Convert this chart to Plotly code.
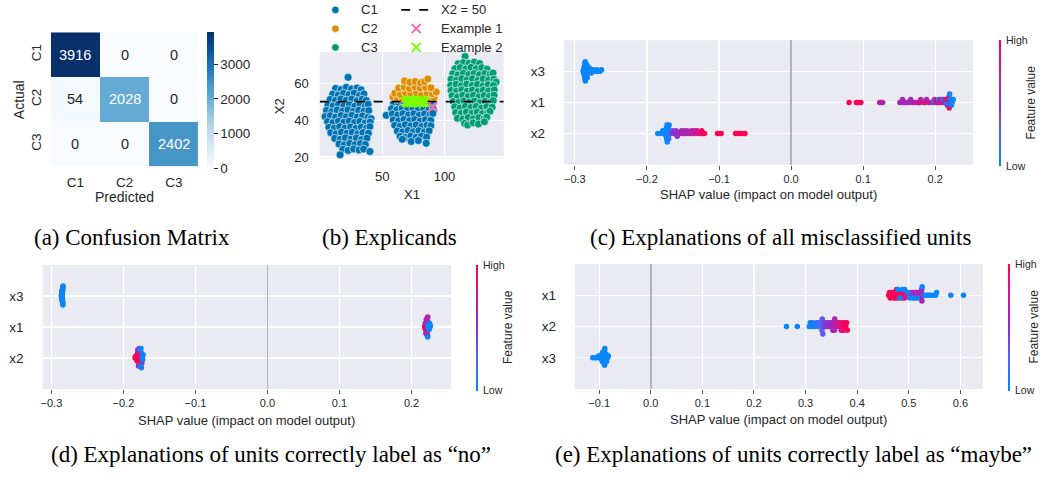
import math
import plotly.graph_objects as go
import plotly.colors as pc

W, H = 1042, 482

# ---------------- (a) confusion matrix ----------------
CM_LABELS = ["C1", "C2", "C3"]
CM_VALUES = [[3916, 0, 0],
             [54, 2028, 0],
             [0, 0, 2402]]
CM_CBAR_TICKS = [0, 1000, 2000, 3000]

# ---------------- (b) explicands (X1, X2) ----------------
C1_POINTS = [
    (22.5, 63.2),
    (12.5, 57.2), (16.8, 56.6), (21.0, 57.8), (25.3, 56.9), (29.6, 57.4), (33.0, 56.4),
    (10.2, 54.1), (14.6, 53.6), (18.9, 54.5), (23.2, 53.8), (27.4, 54.6), (31.8, 53.5), (35.2, 54.2),
    (8.1, 51.2), (12.4, 50.6), (16.7, 51.5), (21.1, 50.8), (25.5, 51.4), (29.8, 50.5), (33.9, 51.3), (37.2, 50.7),
    (6.3, 48.1), (10.5, 47.6), (14.8, 48.5), (19.2, 47.8), (23.5, 48.4), (27.9, 47.5), (32.1, 48.3), (36.4, 47.7), (38.6, 48.6),
    (5.2, 45.3), (9.4, 44.6), (13.7, 45.5), (18.0, 44.8), (22.4, 45.6), (26.8, 44.7), (31.0, 45.4), (35.3, 44.9), (39.1, 45.2),
    (4.0, 41.9), (8.2, 42.4), (12.5, 41.6), (16.9, 42.5), (21.2, 41.8), (25.6, 42.6), (29.9, 41.7), (34.2, 42.3), (38.4, 41.5), (41.0, 40.8),
    (6.0, 39.2), (10.3, 38.6), (14.7, 39.4), (19.0, 38.8), (23.4, 39.5), (27.7, 38.7), (32.0, 39.3), (36.3, 38.5), (40.2, 39.0),
    (7.1, 36.1), (11.4, 35.6), (15.8, 36.4), (20.1, 35.7), (24.5, 36.3), (28.8, 35.5), (33.1, 36.2), (37.4, 35.8), (40.0, 36.5),
    (8.6, 33.2), (12.9, 32.6), (17.2, 33.5), (21.6, 32.8), (25.9, 33.4), (30.2, 32.5), (34.5, 33.3), (38.8, 32.9),
    (11.8, 30.1), (16.1, 29.6), (20.4, 30.4), (24.8, 29.7), (29.1, 30.3), (33.4, 29.5), (37.6, 30.2),
    (15.2, 27.1), (19.5, 26.6), (23.9, 27.4), (28.2, 26.7), (32.5, 27.3), (36.4, 26.8),
    (18.3, 24.2), (22.6, 23.6), (27.0, 24.4), (31.3, 23.8), (35.0, 24.3), (40.1, 23.0), (16.1, 21.2),
    # middle blob, below the threshold
    (59.0, 49.0), (63.2, 49.4), (67.5, 48.8), (71.8, 49.5), (76.1, 48.9), (80.4, 49.3), (84.7, 48.7), (88.8, 49.2),
    (57.4, 46.2), (61.6, 45.6), (65.9, 46.5), (70.2, 45.8), (74.6, 46.4), (78.9, 45.5), (83.2, 46.3), (87.5, 45.7), (90.8, 46.1),
    (53.2, 42.6), (58.1, 43.3), (62.4, 42.7), (66.7, 43.5), (71.0, 42.8), (75.4, 43.4), (79.7, 42.6), (84.0, 43.3), (88.3, 42.9), (90.6, 43.6),
    (58.8, 40.1), (63.1, 39.6), (67.4, 40.4), (71.8, 39.7), (76.1, 40.3), (80.4, 39.5), (84.7, 40.2), (88.9, 39.8),
    (60.0, 37.2), (64.3, 36.6), (68.6, 37.5), (72.9, 36.8), (77.3, 37.4), (81.6, 36.5), (85.9, 37.3), (89.0, 36.9),
    (62.1, 34.1), (66.4, 33.6), (70.7, 34.4), (75.0, 33.7), (79.4, 34.3), (83.7, 33.5), (87.6, 34.2),
    (64.3, 31.2), (68.6, 30.6), (72.9, 31.4), (77.2, 30.7), (81.5, 31.3), (85.6, 30.8),
    (66.0, 29.6), (73.3, 28.4), (79.0, 28.9), (85.3, 27.5),
]
C2_POINTS = [
    (58.5, 52.5), (62.0, 51.3), (66.2, 51.9), (70.5, 51.2), (74.8, 52.0), (79.1, 51.4), (83.4, 52.1), (87.7, 51.5), (91.6, 52.2),
    (60.1, 54.6), (64.4, 54.0), (68.7, 54.9), (73.0, 54.2), (77.4, 54.8), (81.7, 54.1), (86.0, 54.7), (90.2, 54.3), (93.3, 55.2),
    (63.2, 57.4), (67.5, 57.9), (71.8, 57.2), (76.2, 58.0), (80.5, 57.3), (84.8, 57.8), (89.1, 57.5),
    (67.9, 61.2), (72.2, 60.5), (76.5, 61.0), (80.8, 60.3), (84.0, 60.9), (86.6, 62.3),
]
C3_POINTS = [
    (116.5, 74.5),
    (111.0, 70.6), (115.3, 71.2), (119.6, 70.8), (123.9, 71.4), (128.2, 70.7),
    (108.4, 67.9), (112.7, 68.5), (117.0, 67.7), (121.3, 68.6), (125.6, 67.8), (129.9, 68.4), (134.2, 67.6),
    (106.6, 65.1), (110.9, 64.5), (115.2, 65.4), (119.5, 64.7), (123.8, 65.3), (128.1, 64.6), (132.4, 65.2), (136.7, 64.8), (139.0, 65.5),
    (105.3, 62.2), (109.6, 61.6), (113.9, 62.5), (118.2, 61.8), (122.5, 62.4), (126.8, 61.5), (131.1, 62.3), (135.4, 61.7), (139.7, 62.1), (141.4, 60.6),
    (105.0, 58.9), (109.3, 59.4), (113.6, 58.6), (117.9, 59.5), (122.2, 58.8), (126.5, 59.3), (130.8, 58.5), (135.1, 59.2), (139.4, 58.7),
    (105.3, 56.1), (109.6, 55.6), (113.9, 56.4), (118.2, 55.7), (122.5, 56.3), (126.8, 55.5), (131.1, 56.2), (135.4, 55.8), (140.0, 56.3),
    (106.1, 53.2), (110.4, 52.6), (114.7, 53.5), (119.0, 52.8), (123.3, 53.4), (127.6, 52.5), (131.9, 53.3), (136.2, 52.9), (139.8, 53.5),
    (107.0, 50.1), (111.3, 49.6), (115.6, 50.4), (119.9, 49.7), (124.2, 50.3), (128.5, 49.5), (132.8, 50.2), (137.1, 49.8), (139.2, 50.6),
    (108.2, 47.2), (112.5, 46.6), (116.8, 47.5), (121.1, 46.8), (125.4, 47.4), (129.7, 46.5), (134.0, 47.3), (138.3, 47.0),
    (109.0, 44.1), (113.3, 43.6), (117.6, 44.4), (121.9, 43.7), (126.2, 44.3), (130.5, 43.5), (134.8, 44.2), (136.5, 44.8),
    (110.4, 41.0), (114.7, 40.6), (119.0, 41.4), (123.3, 40.7), (127.6, 41.3), (131.9, 40.8), (134.0, 41.6),
    (116.2, 38.2), (118.6, 37.3), (123.0, 38.5), (127.3, 37.9), (132.0, 39.1),
]
EXAMPLE1_POINTS = [(90.6, 47.1)]
EXAMPLE2_POINTS = [
    (69.0, 49.8), (69.8, 50.4), (70.6, 49.6), (71.4, 50.6), (72.2, 50.0), (73.0, 49.5), (73.8, 50.5),
    (74.6, 49.9), (75.4, 50.7), (76.2, 49.7), (77.0, 50.3), (77.8, 49.6), (78.6, 50.6), (79.4, 50.0),
    (80.2, 49.5), (81.0, 50.4), (81.8, 49.8), (82.6, 50.6), (83.4, 50.1), (84.0, 49.7),
]
THRESHOLD_X2 = 50
B_XTICKS = [50, 100]
B_YTICKS = [20, 40, 60]

# ---------------- (c) misclassified units ----------------
C_X3_SHAP = [-0.2885, -0.2880, -0.2878, -0.2875, -0.2872, -0.2870, -0.2868, -0.2866, -0.2864, -0.2862,
             -0.2860, -0.2858, -0.2856, -0.2854, -0.2852, -0.2850, -0.2848, -0.2846, -0.2844, -0.2840,
             -0.2836, -0.2832, -0.2828, -0.2822, -0.2816, -0.2810, -0.2800, -0.2790, -0.2780, -0.2770,
             -0.2755, -0.2740, -0.2725, -0.2705, -0.2690, -0.2670, -0.2650, -0.2630]
C_X3_FEAT = [0.02, 0.04, 0.01, 0.03, 0.05, 0.02, 0.00, 0.03, 0.06, 0.01,
             0.04, 0.02, 0.05, 0.03, 0.01, 0.02, 0.04, 0.00, 0.03, 0.05,
             0.02, 0.01, 0.04, 0.03, 0.02, 0.06, 0.01, 0.03, 0.02, 0.04,
             0.05, 0.01, 0.02, 0.03, 0.04, 0.02, 0.01, 0.03]
C_X1_SHAP = [0.0805, 0.0905, 0.0925, 0.0968, 0.1230, 0.1250, 0.1270, 0.1510, 0.1525, 0.1545,
             0.1565, 0.1590, 0.1615, 0.1640, 0.1660, 0.1685, 0.1710, 0.1735, 0.1760, 0.1785,
             0.1800, 0.1840, 0.1860, 0.1880, 0.1910, 0.1950, 0.1975, 0.1990, 0.2010, 0.2030,
             0.2050, 0.2065, 0.2080, 0.2095, 0.2110, 0.2125, 0.2140, 0.2150, 0.2160, 0.2168,
             0.2175, 0.2180, 0.2185, 0.2190, 0.2195, 0.2200, 0.2208, 0.2215, 0.2225, 0.2235, 0.2250]
C_X1_FEAT = [1.00, 0.97, 1.00, 0.98, 0.62, 0.60, 0.64, 0.62, 0.58, 0.60,
             0.63, 0.60, 0.58, 0.62, 0.60, 0.64, 0.61, 0.66, 0.59, 0.96,
             0.62, 0.60, 0.95, 0.63, 0.60, 0.97, 0.05, 0.62, 0.60, 0.98,
             0.10, 0.66, 1.00, 0.62, 0.04, 0.97, 0.65, 0.02, 0.99, 0.60,
             0.08, 0.62, 0.03, 0.70, 0.95, 0.06, 0.64, 0.02, 0.05, 0.03, 0.01]
C_X2_SHAP = [-0.1850, -0.1800, -0.1780, -0.1765, -0.1752, -0.1745, -0.1740, -0.1735, -0.1730, -0.1726,
             -0.1722, -0.1718, -0.1714, -0.1710, -0.1706, -0.1702, -0.1698, -0.1692, -0.1685, -0.1660,
             -0.1640, -0.1620, -0.1600, -0.1595, -0.1580, -0.1560, -0.1540, -0.1520, -0.1500, -0.1485,
             -0.1480, -0.1460, -0.1440, -0.1420, -0.1400, -0.1380, -0.1360, -0.1345, -0.1340, -0.1320,
             -0.1300, -0.1280, -0.1260, -0.1240, -0.1220, -0.1200, -0.1020, -0.0990, -0.0970, -0.0770,
             -0.0740, -0.0710, -0.0680, -0.0640]
C_X2_FEAT = [0.02, 0.05, 0.01, 0.04, 0.03, 0.06, 0.02, 0.08, 0.01, 0.05,
             0.03, 0.07, 0.02, 0.04, 0.06, 0.01, 0.09, 0.03, 0.12, 0.38,
             0.45, 0.50, 0.52, 0.48, 0.55, 0.58, 0.55, 0.60, 0.58, 0.62,
             0.60, 0.63, 0.60, 0.66, 0.62, 0.68, 0.70, 0.66, 0.72, 0.75,
             0.78, 0.80, 0.85, 0.90, 0.97, 0.98, 1.00, 0.98, 1.00, 0.99,
             1.00, 0.97, 1.00, 0.99]

# ---------------- (d) units correctly labelled "no" ----------------
D_X3_SHAP = [-0.2862, -0.2860, -0.2858, -0.2857, -0.2856, -0.2855, -0.2854, -0.2853, -0.2852, -0.2851,
             -0.2850, -0.2850, -0.2849, -0.2849, -0.2848, -0.2848, -0.2847, -0.2847, -0.2846, -0.2846,
             -0.2845, -0.2845, -0.2844, -0.2843, -0.2842, -0.2841, -0.2840, -0.2838]
D_X3_FEAT = [0.02, 0.04, 0.01, 0.03, 0.05, 0.02, 0.00, 0.03, 0.06, 0.01,
             0.04, 0.02, 0.05, 0.03, 0.01, 0.02, 0.04, 0.00, 0.03, 0.05,
             0.02, 0.01, 0.04, 0.03, 0.02, 0.06, 0.01, 0.03]
D_X1_SHAP = [0.2182, 0.2186, 0.2190, 0.2194, 0.2197, 0.2200, 0.2203, 0.2206, 0.2208, 0.2210,
             0.2212, 0.2214, 0.2216, 0.2218, 0.2220, 0.2192, 0.2199, 0.2205, 0.2211, 0.2217,
             0.2222, 0.2226, 0.2224, 0.2228, 0.2232, 0.2236, 0.2240, 0.2245, 0.2250, 0.2256, 0.2262]
D_X1_FEAT = [1.00, 0.98, 0.97, 1.00, 0.95, 0.99, 1.00, 0.96, 0.98, 1.00,
             0.97, 0.99, 0.95, 1.00, 0.98, 0.62, 0.58, 0.65, 0.60, 0.70,
             0.55, 0.63, 0.05, 0.02, 0.04, 0.01, 0.06, 0.03, 0.02, 0.05, 0.01]
D_X2_SHAP = [-0.1838, -0.1832, -0.1826, -0.1820, -0.1815, -0.1810, -0.1806, -0.1802, -0.1798, -0.1795,
             -0.1792, -0.1789, -0.1786, -0.1783, -0.1780, -0.1777, -0.1774, -0.1771, -0.1768, -0.1765,
             -0.1762, -0.1758, -0.1752, -0.1745, -0.1738, -0.1800, -0.1790, -0.1781, -0.1772, -0.1760,
             -0.1770, -0.1764, -0.1756, -0.1750, -0.1742, -0.1734, -0.1726]
D_X2_FEAT = [1.00, 0.98, 0.97, 1.00, 0.96, 0.99, 1.00, 0.95, 0.98, 1.00,
             0.97, 0.99, 0.96, 1.00, 0.98, 0.97, 1.00, 0.95, 0.99, 0.98,
             1.00, 0.96, 0.97, 1.00, 0.98, 0.60, 0.55, 0.65, 0.58, 0.62,
             0.05, 0.02, 0.04, 0.08, 0.01, 0.03, 0.06]

# ---------------- (e) units correctly labelled "maybe" ----------------
E_X1_SHAP = [0.4610, 0.4625, 0.4640, 0.4655, 0.4670, 0.4685, 0.4700, 0.4712, 0.4725, 0.4738,
             0.4750, 0.4762, 0.4775, 0.4788, 0.4800, 0.4815, 0.4830, 0.4845, 0.4860, 0.4875,
             0.4890, 0.4905, 0.4920, 0.4940, 0.4960, 0.4985, 0.5010, 0.5030, 0.5050, 0.5070,
             0.5090, 0.5110, 0.5130, 0.5150, 0.5165, 0.5180, 0.5200, 0.5215, 0.5230, 0.5240,
             0.5244, 0.5248, 0.5251, 0.5255, 0.4790, 0.4830, 0.4880, 0.4920, 0.4980, 0.5020,
             0.5080, 0.5120, 0.5170, 0.5260, 0.5310, 0.5350, 0.5380, 0.5420, 0.5460, 0.5520,
             0.5540, 0.5815, 0.6060]
E_X1_FEAT = [1.00, 0.97, 0.99, 1.00, 0.95, 0.98, 1.00, 0.96, 0.99, 0.97,
             1.00, 0.94, 0.98, 1.00, 0.96, 0.99, 0.93, 1.00, 0.97, 0.95,
             0.98, 0.92, 0.90, 0.88, 0.78, 0.72, 0.66, 0.62, 0.68, 0.60,
             0.64, 0.58, 0.62, 0.66, 0.60, 0.63, 0.58, 0.62, 0.60, 0.64,
             0.57, 0.61, 0.59, 0.63, 0.04, 0.02, 0.06, 0.03, 0.05, 0.01,
             0.04, 0.02, 0.06, 0.03, 0.01, 0.05, 0.02, 0.04, 0.03, 0.01,
             0.02, 0.03, 0.02]
E_X2_SHAP = [0.2630, 0.2840, 0.3070, 0.3090, 0.3110, 0.3140, 0.3160, 0.3190, 0.3210, 0.3240,
             0.3260, 0.3280, 0.3295, 0.3305, 0.3310, 0.3318, 0.3325, 0.3335, 0.3345, 0.3360,
             0.3380, 0.3400, 0.3420, 0.3440, 0.3460, 0.3480, 0.3500, 0.3515, 0.3530, 0.3545,
             0.3552, 0.3558, 0.3565, 0.3580, 0.3600, 0.3620, 0.3640, 0.3660, 0.3670, 0.3690,
             0.3705, 0.3720, 0.3735, 0.3750, 0.3765, 0.3780, 0.3795, 0.3810]
E_X2_FEAT = [0.02, 0.03, 0.05, 0.04, 0.08, 0.06, 0.10, 0.09, 0.12, 0.14,
             0.16, 0.18, 0.20, 0.22, 0.24, 0.26, 0.28, 0.30, 0.33, 0.40,
             0.42, 0.45, 0.47, 0.50, 0.52, 0.54, 0.56, 0.58, 0.60, 0.62,
             0.63, 0.64, 0.66, 0.68, 0.70, 0.72, 0.74, 0.76, 0.80, 0.83,
             0.86, 0.88, 0.90, 0.92, 0.94, 0.96, 0.98, 1.00]
E_X3_SHAP = [-0.1125, -0.1080, -0.1040, -0.1010, -0.0990, -0.0975, -0.0965, -0.0958, -0.0950, -0.0944,
             -0.0938, -0.0932, -0.0927, -0.0922, -0.0918, -0.0914, -0.0910, -0.0906, -0.0902, -0.0898,
             -0.0894, -0.0890, -0.0885, -0.0880, -0.0874, -0.0866, -0.0855, -0.0840, -0.0820]
E_X3_FEAT = [0.02, 0.04, 0.01, 0.03, 0.05, 0.02, 0.00, 0.03, 0.06, 0.01,
             0.04, 0.02, 0.05, 0.03, 0.01, 0.02, 0.04, 0.00, 0.03, 0.05,
             0.02, 0.01, 0.04, 0.03, 0.02, 0.06, 0.01, 0.03, 0.02]

SHAP_TICKS = [-0.3, -0.2, -0.1, 0.0, 0.1, 0.2]
SHAP_TICKS_E = [-0.1, 0.0, 0.1, 0.2, 0.3, 0.4, 0.5, 0.6]

# ======================= styling / layout =======================
SANS = "Liberation Sans, Arial, sans-serif"
SERIF = "Liberation Serif, Times New Roman, serif"
TXT = "#262626"
BG = "#eaeaf2"
SHAP_SCALE = [[0.0, "#008bfb"], [0.25, "#5563f0"], [0.5, "#8b2fd0"], [0.75, "#cc1a95"], [1.0, "#ff0052"]]
BLUES = pc.sequential.Blues


def dx(x0, x1):
    return [x0 / W, x1 / W]


def dy(y0, y1):
    return [1 - y1 / H, 1 - y0 / H]


def swarm(values, span, nbins=200, row_height=0.4):
    """shap-style beeswarm offsets: stack points falling in the same bin."""
    bw = span / nbins
    q = [round(v / bw) for v in values]
    order = sorted(range(len(values)), key=lambda i: q[i])
    ys = [0.0] * len(values)
    layer, last = 0, None
    for i in order:
        if q[i] != last:
            layer = 0
        ys[i] = math.ceil(layer / 2) * ((layer % 2) * 2 - 1)
        layer += 1
        last = q[i]
    top = max(ys) + 1
    return [y * 0.9 * row_height / top for y in ys]


fig = go.Figure()
annotations = []
shapes = []

# ---------- (a) heatmap ----------
zmax = max(max(r) for r in CM_VALUES)
fig.add_trace(go.Heatmap(
    z=CM_VALUES, x=[0, 1, 2], y=[0, 1, 2], colorscale=BLUES, zmin=0, zmax=zmax,
    xaxis="x", yaxis="y", hoverinfo="skip",
    colorbar=dict(x=205 / W, xanchor="left", y=1 - 32.7 / H, yanchor="top", lenmode="pixels", len=135.8,
                  thickness=7, xpad=0, ypad=0, outlinewidth=0, tickvals=CM_CBAR_TICKS, tickformat="d",
                  ticks="outside", ticklen=4, tickcolor=TXT, tickfont=dict(size=13.5, color=TXT, family=SANS)),
))
for i, row in enumerate(CM_VALUES):
    for j, v in enumerate(row):
        annotations.append(dict(x=j, y=i, xref="x", yref="y", text=str(v), showarrow=False,
                                font=dict(size=14.5, family=SANS, color="white" if v > zmax * 0.4 else TXT)))

# ---------- (b) explicands ----------
for pts, col in ((C1_POINTS, "#0173b2"), (C2_POINTS, "#de8f05"), (C3_POINTS, "#029e73")):
    fig.add_trace(go.Scatter(x=[p[0] for p in pts], y=[p[1] for p in pts], mode="markers", xaxis="x2", yaxis="y2",
                             marker=dict(size=8, color=col, line=dict(color="white", width=0.6)), hoverinfo="skip"))
B_XRANGE = [-0.3, 147.6]
fig.add_trace(go.Scatter(x=B_XRANGE, y=[THRESHOLD_X2, THRESHOLD_X2], mode="lines", xaxis="x2", yaxis="y2",
                         line=dict(color="black", width=1.8, dash="dash"), hoverinfo="skip"))
fig.add_trace(go.Scatter(x=[p[0] for p in EXAMPLE2_POINTS], y=[p[1] for p in EXAMPLE2_POINTS], mode="markers",
                         xaxis="x2", yaxis="y2",
                         marker=dict(symbol="x-thin", size=9, line=dict(color="#7cfc00", width=2)), hoverinfo="skip"))
fig.add_trace(go.Scatter(x=[p[0] for p in EXAMPLE1_POINTS], y=[p[1] for p in EXAMPLE1_POINTS], mode="markers",
                         xaxis="x2", yaxis="y2",
                         marker=dict(symbol="x-thin", size=9, line=dict(color="#ff69b4", width=2)), hoverinfo="skip"))

# legend of (b) drawn on a full-figure pixel overlay
LEG = dict(xaxis="x6", yaxis="y6", hoverinfo="skip", mode="markers")
for (lbl, col), yy in zip((("C1", "#0173b2"), ("C2", "#de8f05"), ("C3", "#029e73")), (10, 29, 48)):
    fig.add_trace(go.Scatter(x=[334], y=[yy], marker=dict(size=7.5, color=col, line=dict(color="white", width=0.6)), **LEG))
    annotations.append(dict(x=358 / W, y=1 - yy / H, xref="paper", yref="paper", text=lbl, showarrow=False,
                            xanchor="left", yanchor="middle", font=dict(size=13, family=SANS, color=TXT)))
fig.add_trace(go.Scatter(x=[400, 427], y=[10, 10], xaxis="x6", yaxis="y6", mode="lines",
                         line=dict(color="black", width=1.8, dash="dash"), hoverinfo="skip"))
fig.add_trace(go.Scatter(x=[415], y=[29], marker=dict(symbol="x-thin", size=9, line=dict(color="#ff69b4", width=2)), **LEG))
fig.add_trace(go.Scatter(x=[415], y=[48], marker=dict(symbol="x-thin", size=9, line=dict(color="#7cfc00", width=2)), **LEG))
for lbl, yy in (("X2 = 50", 10), ("Example 1", 29), ("Example 2", 48)):
    annotations.append(dict(x=438 / W, y=1 - yy / H, xref="paper", yref="paper", text=lbl, showarrow=False,
                            xanchor="left", yanchor="middle", font=dict(size=13, family=SANS, color=TXT)))

# ---------- SHAP beeswarm panels ----------
PANELS = [
    # axis suffix, x range, features bottom->top, colorbar px (x, ytop, ybottom), title offset
    ("3", [-0.3152, 0.2526], [("x2", C_X2_SHAP, C_X2_FEAT), ("x1", C_X1_SHAP, C_X1_FEAT), ("x3", C_X3_SHAP, C_X3_FEAT)],
     (999, 40.7, 166.7), 32),
    ("4", [-0.3122, 0.2550], [("x2", D_X2_SHAP, D_X2_FEAT), ("x1", D_X1_SHAP, D_X1_FEAT), ("x3", D_X3_SHAP, D_X3_FEAT)],
     (475, 268.3, 394), 32),
    ("5", [-0.1470, 0.6435], [("x3", E_X3_SHAP, E_X3_FEAT), ("x2", E_X2_SHAP, E_X2_FEAT), ("x1", E_X1_SHAP, E_X1_FEAT)],
     (1008, 267.3, 394), 26),
]
for suf, xr, feats, (cbx, cbt, cbb), toff in PANELS:
    xs, ys, cs = [], [], []
    span = xr[1] - xr[0]
    for row, (_, sv, fv) in enumerate(feats):
        offs = swarm(sv, span)
        xs += sv
        ys += [row + o for o in offs]
        cs += fv
    fig.add_trace(go.Scatter(
        x=xs, y=ys, mode="markers", xaxis="x" + suf, yaxis="y" + suf, hoverinfo="skip",
        marker=dict(size=5.5, color=cs, colorscale=SHAP_SCALE, cmin=0, cmax=1, line=dict(width=0), showscale=True,
                    colorbar=dict(x=cbx / W, xanchor="left", y=1 - cbt / H, yanchor="top", lenmode="pixels",
                                  len=cbb - cbt, thickness=2, xpad=0, ypad=0, outlinewidth=0,
                                  showticklabels=False, ticks="")),
    ))
    for txt, yy in (("High", cbt), ("Low", cbb + 1)):
        annotations.append(dict(x=(cbx + 5) / W, y=1 - yy / H, xref="paper", yref="paper", text=txt, showarrow=False,
                                xanchor="left", yanchor="middle", font=dict(size=10.5, family=SANS, color=TXT)))
    annotations.append(dict(x=(cbx + toff) / W, y=1 - (cbt + cbb) / 2 / H, xref="paper", yref="paper",
                            text="Feature value", textangle=-90, showarrow=False, xanchor="center", yanchor="middle",
                            font=dict(size=12, family=SANS, color=TXT)))

# ---------- captions and axis titles ----------
CAPTIONS = [
    ("(a) Confusion Matrix", 130, 240),
    ("(b) Explicands", 388, 240),
    ("(c) Explanations of all misclassified units", 780, 240),
    ("(d) Explanations of units correctly label as \u201cno\u201d", 270, 460),
    ("(e) Explanations of units correctly label as \u201cmaybe\u201d", 793, 460),
]
for txt, cx, cy in CAPTIONS:
    annotations.append(dict(x=cx / W, y=1 - cy / H, xref="paper", yref="paper", text=txt, showarrow=False,
                            xanchor="center", yanchor="middle", font=dict(size=23, family=SERIF, color="black")))

TITLES = [
    ("Predicted", 123, 199, 0, 14),
    ("Actual", 16.5, 101, -90, 14),
    ("X1", 410.5, 197, 0, 13),
    ("X2", 278, 107, -90, 13),
    ("SHAP value (impact on model output)", 768, 197, 0, 13),
    ("SHAP value (impact on model output)", 245.4, 426, 0, 13),
    ("SHAP value (impact on model output)", 778.4, 425, 0, 13),
]
for txt, cx, cy, ang, fs in TITLES:
    annotations.append(dict(x=cx / W, y=1 - cy / H, xref="paper", yref="paper", text=txt, showarrow=False,
                            textangle=ang, xanchor="center", yanchor="middle",
                            font=dict(size=fs, family=SANS, color=TXT)))

# panel backgrounds (seaborn darkgrid)
for suf in ("2", "3", "4", "5"):
    shapes.append(dict(type="rect", xref="x%s domain" % suf, yref="y%s domain" % suf, x0=0, x1=1, y0=0, y1=1,
                       fillcolor=BG, line=dict(width=0), layer="below"))

tickfont = dict(size=13.5, family=SANS, color=TXT)
shap_x = dict(showgrid=True, gridcolor="white", gridwidth=1.2, zeroline=True, zerolinecolor="#b4b4b8",
              zerolinewidth=1.5, ticks="outside", ticklen=4, tickcolor="#555555", tickformat=".1f",
              tickfont=dict(size=11, family=SANS, color=TXT), showline=False)
shap_y = dict(range=[-1, 3], tickvals=[0, 1, 2], showgrid=True, gridcolor="white", gridwidth=1.2, zeroline=False,
              ticks="", ticklabelstandoff=18, tickfont=dict(size=13.5, family=SANS, color=TXT))

fig.update_layout(
    width=W, height=H, margin=dict(l=0, r=0, t=0, b=0), paper_bgcolor="white", plot_bgcolor="rgba(0,0,0,0)",
    showlegend=False, font=dict(family=SANS, color=TXT),
    xaxis=dict(domain=dx(49, 196.7), anchor="y", range=[-0.5, 2.5], tickvals=[0, 1, 2], ticktext=CM_LABELS,
               showgrid=False, zeroline=False, ticks="", ticklabelstandoff=6, tickfont=tickfont),
    yaxis=dict(domain=dy(32.7, 168.5), anchor="x", range=[2.5, -0.5], tickvals=[0, 1, 2], ticktext=CM_LABELS,
               tickangle=-90, showgrid=False, zeroline=False, ticks="", ticklabelstandoff=6, tickfont=tickfont),
    xaxis2=dict(domain=dx(318.3, 502.7), anchor="y2", range=B_XRANGE, tickvals=B_XTICKS, showgrid=True,
                gridcolor="white", gridwidth=1.2, zeroline=False, ticks="", ticklabelstandoff=8,
                tickfont=dict(size=13, family=SANS, color=TXT)),
    yaxis2=dict(domain=dy(52.7, 160.7), anchor="x2", range=[19.1, 76.9], tickvals=B_YTICKS, showgrid=True,
                gridcolor="white", gridwidth=1.2, zeroline=False, ticks="", ticklabelstandoff=10,
                tickfont=dict(size=13, family=SANS, color=TXT)),
    xaxis3=dict(domain=dx(563, 973), anchor="y3", range=PANELS[0][1], tickvals=SHAP_TICKS, **shap_x),
    yaxis3=dict(domain=dy(40.7, 166.7), anchor="x3", ticktext=[f[0] for f in PANELS[0][2]], **shap_y),
    xaxis4=dict(domain=dx(40.7, 450), anchor="y4", range=PANELS[1][1], tickvals=SHAP_TICKS, **shap_x),
    yaxis4=dict(domain=dy(268.3, 394), anchor="x4", ticktext=[f[0] for f in PANELS[1][2]], **shap_y),
    xaxis5=dict(domain=dx(574, 982.7), anchor="y5", range=PANELS[2][1], tickvals=SHAP_TICKS_E, **shap_x),
    yaxis5=dict(domain=dy(267.3, 394), anchor="x5", ticktext=[f[0] for f in PANELS[2][2]], **shap_y),
    xaxis6=dict(domain=[0, 1], anchor="y6", range=[0, W], visible=False, fixedrange=True),
    yaxis6=dict(domain=[0, 1], anchor="x6", range=[H, 0], visible=False, fixedrange=True),
    annotations=annotations, shapes=shapes,
)

fig.write_html("out.html", config={"displayModeBar": False, "staticPlot": True},
               post_script="document.body.style.margin='0px';document.body.style.overflow='hidden';")
